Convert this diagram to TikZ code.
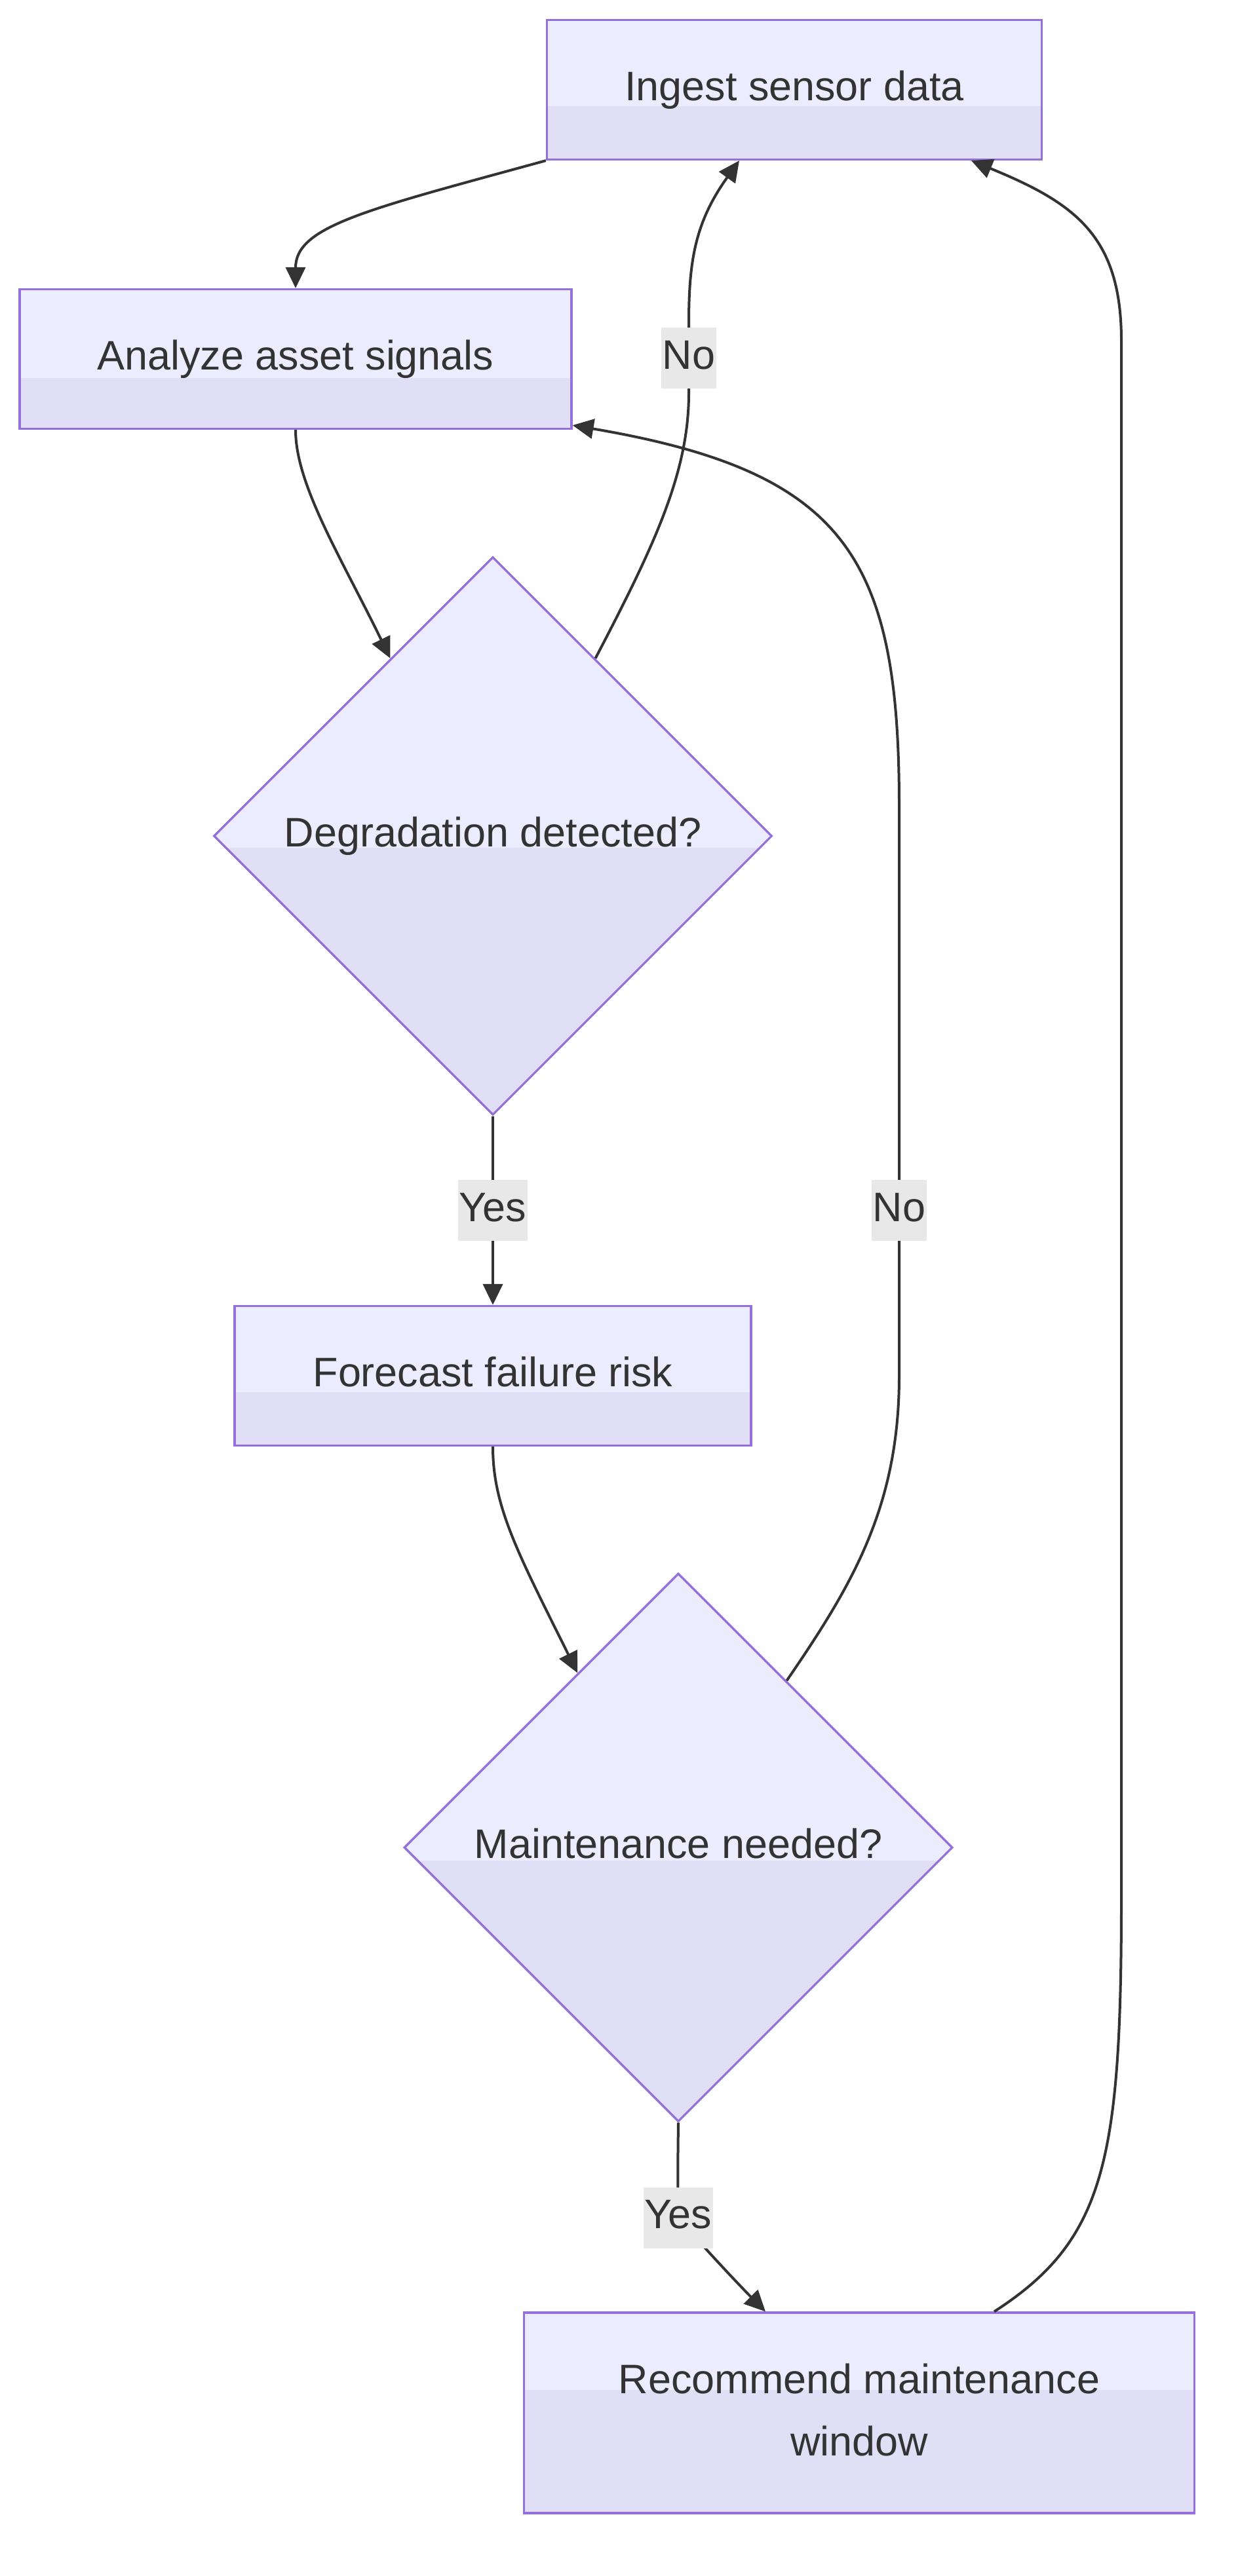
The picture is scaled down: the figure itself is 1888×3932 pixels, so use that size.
\documentclass[tikz,border=0pt]{standalone}
\usepackage{fontspec}
\setmainfont{Liberation Sans}
\usetikzlibrary{arrows.meta,shapes.geometric}
\definecolor{ink}{HTML}{333333}
\definecolor{nodetop}{HTML}{ECECFF}
\definecolor{nodelow}{HTML}{E1DFF6}
\definecolor{nodeedge}{HTML}{9370DB}
\definecolor{lblbg}{HTML}{E8E8E8}
\newcommand{\flow}{\fontsize{17.9}{27}\selectfont}
\begin{document}
\begin{tikzpicture}[x=0.1mm,y=-0.1mm,font=\flow,text=ink,
  box/.style={draw=nodeedge,fill=nodetop,line width=0.33mm,inner sep=0,minimum height=21.3mm,align=center},
  decide/.style={diamond,aspect=1,draw=nodeedge,fill=nodetop,line width=0.33mm,inner sep=0},
  oneline/.style={text height=13.1pt,text depth=3.8pt},
  twotone/.style={path picture={\fill[nodelow] ([yshift=-#1]path picture bounding box.west) rectangle (path picture bounding box.south east);}},
  flowline/.style={ink,line width=0.4mm,-{Triangle[length=3.2mm,width=3mm]}},
  lbl/.style={oneline,fill=lblbg,inner xsep=0.2mm,inner ysep=0,minimum height=9.3mm,text=ink}]
\fill[white] (0,0) rectangle (1888,3932);
\useasboundingbox (0,0) rectangle (1888,3932);
\node[box,oneline,twotone=2.5mm,minimum width=75.5mm] (ingest) at (1212,137) {Ingest sensor data};
\node[box,oneline,twotone=2.9mm,minimum width=84.2mm] (analyze) at (451,548) {Analyze asset signals};
\node[decide,oneline,twotone=1.8mm,minimum width=85.2mm,minimum height=85.2mm] (degraded) at (752,1276) {Degradation detected?};
\node[box,oneline,twotone=2.5mm,minimum width=78.8mm] (forecast) at (752,2100) {Forecast failure risk};
\node[decide,oneline,twotone=2mm,minimum width=83.7mm,minimum height=83.7mm] (needed) at (1035,2820) {Maintenance needed?};
\node[box,twotone=-3.5mm,minimum width=102.3mm,minimum height=30.6mm] (recommend) at (1311,3683) {Recommend maintenance\\window\rule[-2.8pt]{0pt}{2.8pt}};
\draw[flowline] (ingest.south west) .. controls (560,320) and (451,345) .. (analyze.north);
\draw[flowline] (analyze.south) .. controls (451,740) and (520,850) .. (degraded.120);
\draw[flowline] (degraded.60) .. controls (1000,830) and (1051,720) .. (1051,600) -- node[lbl]{No} (1051,494) .. controls (1051,400) and (1060,340) .. ([xshift=-8.4mm]ingest.south);
\draw[flowline] (degraded.south) -- node[lbl]{Yes} (forecast.north);
\draw[flowline] (forecast.south) .. controls (752,2300) and (790,2370) .. (needed.120);
\draw[flowline] (needed.57) .. controls (1300,2420) and (1372,2300) .. (1372,2100) -- node[lbl,pos=0.29]{No} (1372,1230) .. controls (1372,850) and (1290,720) .. ([yshift=0.7mm]analyze.south east);
\draw[flowline] (needed.south) .. controls (1034,3320) and (1034,3345) .. (1035,3385) node[lbl]{Yes} .. controls (1075,3432) and (1130,3490) .. ([xshift=-14.3mm]recommend.north);
\draw[flowline] ([xshift=20.6mm]recommend.north) .. controls (1685,3420) and (1711,3300) .. (1711,2900) -- (1711,520) .. controls (1711,360) and (1640,310) .. ([xshift=27mm]ingest.south);
\end{tikzpicture}
\end{document}
